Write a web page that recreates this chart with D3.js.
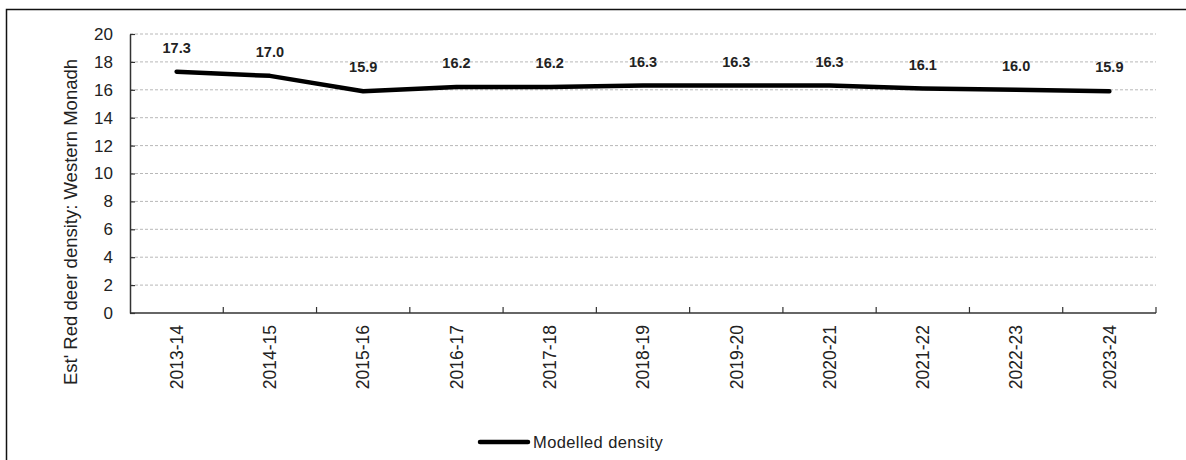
<!DOCTYPE html>
<html>
<head>
<meta charset="utf-8">
<script src="https://cdn.jsdelivr.net/npm/d3@7"></script>
<style>
    body { margin: 0; background: #fff; }
    text { font-family: "Liberation Sans", Arial, sans-serif; fill: #222; }
</style>
</head>
<body>
<div id="chart"></div>
<script>
// chart data
var seasons = ["2013-14", "2014-15", "2015-16", "2016-17", "2017-18", "2018-19",
               "2019-20", "2020-21", "2021-22", "2022-23", "2023-24"];
var density = [17.3, 17.0, 15.9, 16.2, 16.2, 16.3, 16.3, 16.3, 16.1, 16.0, 15.9];
var yTicks = [0, 2, 4, 6, 8, 10, 12, 14, 16, 18, 20];
var seriesName = "Modelled density";
var yTitle = "Est' Red deer density: Western Monadh";

var W = 1186, H = 460;
var margin = { top: 34, right: 30, bottom: 147, left: 130 };
var width = W - margin.left - margin.right;
var height = H - margin.top - margin.bottom;

var svg = d3.select("#chart").append("svg")
    .attr("width", W)
    .attr("height", H);

// outer frame (runs off the right and bottom edges)
svg.append("rect")
    .attr("x", 6.5).attr("y", 9.5)
    .attr("width", W + 20).attr("height", H + 20)
    .attr("fill", "none")
    .attr("stroke", "#111")
    .attr("stroke-width", 1.5);

var g = svg.append("g")
    .attr("transform", "translate(" + margin.left + "," + margin.top + ")");

var x = d3.scaleBand().domain(seasons).range([0, width]);
var y = d3.scaleLinear().domain([0, 20]).range([height, 0]);

// gridlines
g.selectAll(".grid")
    .data(yTicks.filter(function (d) { return d > 0; }))
    .enter().append("line")
    .attr("x1", 0).attr("x2", width)
    .attr("y1", function (d) { return y(d); })
    .attr("y2", function (d) { return y(d); })
    .attr("stroke", "#b8b8b8")
    .attr("stroke-width", 1)
    .attr("stroke-dasharray", "3,2");

// y axis
var yAxis = g.append("g")
    .call(d3.axisLeft(y).tickValues(yTicks).tickSizeInner(-5).tickSizeOuter(0).tickPadding(17));
yAxis.select(".domain").attr("stroke", "#333").attr("stroke-width", 1.5);
yAxis.selectAll(".tick line").attr("stroke", "#333").attr("stroke-width", 1.2);
yAxis.selectAll("text")
    .style("font-size", "17px")
    .style("font-family", "'Liberation Sans', Arial, sans-serif")
    .attr("fill", "#222");

// x axis with ticks between categories
var xAxis = g.append("g").attr("transform", "translate(0," + height + ")");
xAxis.append("line")
    .attr("x1", 0).attr("x2", width)
    .attr("stroke", "#333").attr("stroke-width", 1.5);
var bounds = seasons.map(function (d) { return x(d); }).concat([width]);
xAxis.selectAll(".xtick")
    .data(bounds.slice(1))
    .enter().append("line")
    .attr("x1", function (d) { return d; })
    .attr("x2", function (d) { return d; })
    .attr("y1", 0).attr("y2", -6)
    .attr("stroke", "#333").attr("stroke-width", 1.2);
xAxis.selectAll(".xlab")
    .data(seasons)
    .enter().append("text")
    .attr("transform", function (d) {
        return "translate(" + (x(d) + x.bandwidth() / 2) + ",12) rotate(-90)";
    })
    .attr("text-anchor", "end")
    .attr("dy", "0.36em")
    .style("font-size", "17.5px")
    .text(function (d) { return d; });

// y axis title
svg.append("text")
    .attr("transform", "translate(70,222) rotate(-90)")
    .attr("text-anchor", "middle")
    .attr("dy", "0.36em")
    .style("font-size", "18.5px")
    .text(yTitle);

// line
var line = d3.line()
    .x(function (d, i) { return x(seasons[i]) + x.bandwidth() / 2; })
    .y(function (d) { return y(d); });

g.append("path")
    .datum(density)
    .attr("d", line)
    .attr("fill", "none")
    .attr("stroke", "#000")
    .attr("stroke-width", 4.5)
    .attr("stroke-linejoin", "round")
    .attr("stroke-linecap", "round");

// data labels
g.selectAll(".lbl")
    .data(density)
    .enter().append("text")
    .attr("x", function (d, i) { return x(seasons[i]) + x.bandwidth() / 2; })
    .attr("y", function (d) { return y(d) - 24; })
    .attr("dy", "0.36em")
    .attr("text-anchor", "middle")
    .style("font-size", "14.5px")
    .style("font-weight", "bold")
    .text(function (d) { return d.toFixed(1); });

// legend
var leg = svg.append("g").attr("transform", "translate(480,442)");
leg.append("line")
    .attr("x1", 0).attr("x2", 48)
    .attr("stroke", "#000").attr("stroke-width", 4.5)
    .attr("stroke-linecap", "round");
leg.append("text")
    .attr("x", 53)
    .attr("dy", "0.36em")
    .style("font-size", "16.5px")
    .style("letter-spacing", "0.4px")
    .text(seriesName);
</script>
</body>
</html>
